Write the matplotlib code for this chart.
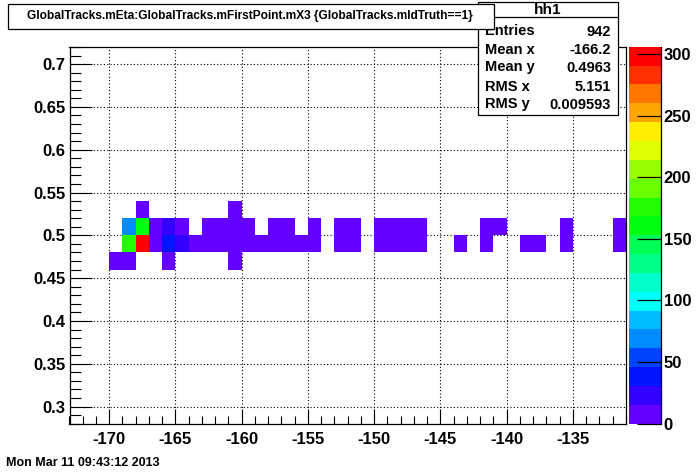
import numpy as np
import matplotlib
matplotlib.use("Agg")
import matplotlib.pyplot as plt
from matplotlib.colors import ListedColormap, BoundaryNorm
from matplotlib.patches import Rectangle
from matplotlib.ticker import MultipleLocator
import colorsys

# ---------------- data (bin low edge in x, counts), one list pair per eta row
row053_x = [-168, -161]
row053_n = [8, 2]
row051_x = [-169, -168, -167, -166, -165, -163, -162, -161, -160, -158, -157,
            -155, -153, -152, -150, -149, -148, -147, -142, -141, -136, -132]
row051_n = [70, 159, 12, 22, 10, 4, 3, 3, 2, 2, 2,
            1, 1, 1, 1, 1, 1, 1, 1, 1, 1, 1]
row049_x = [-169, -168, -167, -166, -165, -164, -163, -162, -161, -160, -159,
            -158, -157, -156, -155, -153, -152, -150, -149, -148, -147, -144,
            -142, -139, -138, -136, -132]
row049_n = [176, 306, 14, 38, 22, 12, 8, 6, 5, 4, 3,
            3, 2, 2, 2, 1, 2, 1, 1, 2, 1, 1,
            1, 1, 1, 1, 1]
row047_x = [-170, -169, -166, -161]
row047_n = [5, 6, 3, 1]
eta_rows = [0.53, 0.51, 0.49, 0.47]

x_range = (-173, -131)
y_range = (0.28, 0.72)
n_xbins = 42
n_ybins = 22
n_levels = 20

title_text = "GlobalTracks.mEta:GlobalTracks.mFirstPoint.mX3 {GlobalTracks.mIdTruth==1}"
stats_name = "hh1"
stats_labels = ["Entries", "Mean x", "Mean y", "RMS x", "RMS y"]
stats_values = ["942", "-166.2", "0.4963", "5.151", "0.009593"]
date_text = "Mon Mar 11 09:43:12 2013"

# ---------------- build histogram
rows_x = [row053_x, row051_x, row049_x, row047_x]
rows_n = [row053_n, row051_n, row049_n, row047_n]
xs, ys, ws = [], [], []
for eta, rx, rn in zip(eta_rows, rows_x, rows_n):
    for bx, c in zip(rx, rn):
        xs.append(bx + 0.5)
        ys.append(eta)
        ws.append(c)
xedges = np.linspace(x_range[0], x_range[1], n_xbins + 1)
yedges = np.linspace(y_range[0], y_range[1], n_ybins + 1)
H, _, _ = np.histogram2d(xs, ys, bins=[xedges, yedges], weights=ws)
Hm = np.ma.masked_where(H <= 0, H).T
zmax = H.max()

# ROOT "pretty" palette with 20 contour levels
pal = []
for i in range(50):
    hue = 280 - (i + 1) * (280.0 / 50)
    pal.append(colorsys.hls_to_rgb((hue % 360) / 360.0, 0.5, 1.0))
cols = [pal[int((k + 0.99) * 50 / n_levels)] for k in range(n_levels)]
cmap = ListedColormap(cols)
levels = np.linspace(0, zmax, n_levels + 1)
norm = BoundaryNorm(levels, cmap.N)

# ---------------- figure
W, Hpx = 696, 472
fig = plt.figure(figsize=(W / 100, Hpx / 100), dpi=100)
fig.patch.set_facecolor("white")

def fb(x0, y0, x1, y1):
    return [x0 / W, 1 - y1 / Hpx, (x1 - x0) / W, (y1 - y0) / Hpx]

FONT = "Liberation Sans"

ax = fig.add_axes(fb(69.5, 47, 626, 423.7))
ax.set_axisbelow(True)
ax.pcolormesh(xedges, yedges, Hm, cmap=cmap, norm=norm, zorder=1)
ax.set_xlim(*x_range)
ax.set_ylim(*y_range)
ax.xaxis.set_major_locator(MultipleLocator(5))
ax.xaxis.set_minor_locator(MultipleLocator(1))
ax.yaxis.set_major_locator(MultipleLocator(0.05))
ax.yaxis.set_minor_locator(MultipleLocator(0.01))
ax.grid(True, which="major", color="black", linestyle=(0, (1, 2)), linewidth=0.8, zorder=0.5)
ax.tick_params(axis="x", which="major", direction="in", length=11, width=0.8,
               top=False, pad=6)
ax.tick_params(axis="x", which="minor", direction="in", length=5.5, width=0.8, top=False)
ax.tick_params(axis="y", which="major", direction="in", length=16, width=0.8,
               right=False, pad=3)
ax.tick_params(axis="y", which="minor", direction="in", length=8, width=0.8, right=False)
for sp in ax.spines.values():
    sp.set_linewidth(0.9)
ax.set_xticks([-170, -165, -160, -155, -150, -145, -140, -135])
ax.set_xticklabels(["-170", "-165", "-160", "-155", "-150", "-145", "-140", "-135"])
ax.set_yticks([0.3, 0.35, 0.4, 0.45, 0.5, 0.55, 0.6, 0.65, 0.7])
ax.set_yticklabels(["0.3", "0.35", "0.4", "0.45", "0.5", "0.55", "0.6", "0.65", "0.7"])
for lab in ax.get_xticklabels() + ax.get_yticklabels():
    lab.set_fontfamily(FONT)
    lab.set_fontweight("bold")
    lab.set_fontsize(12)

# colour palette axis
cax = fig.add_axes(fb(629, 46.7, 661, 423.7))
cax.pcolormesh([0, 1], levels, ((levels[:-1] + levels[1:]) / 2)[:, None],
               cmap=cmap, norm=norm)
cax.set_xlim(0, 1)
cax.set_ylim(0, zmax)
cax.set_xticks([])
cax.yaxis.tick_right()
cax.set_yticks([0, 50, 100, 150, 200, 250, 300])
cax.set_yticklabels(["0", "50", "100", "150", "200", "250", "300"])
cax.tick_params(axis="y", direction="in", length=17, width=0.9, pad=2, left=False, right=True)
for s in ("left", "top", "bottom"):
    cax.spines[s].set_visible(False)
cax.spines["right"].set_linewidth(0.9)
for lab in cax.get_yticklabels():
    lab.set_fontfamily(FONT)
    lab.set_fontweight("bold")
    lab.set_fontsize(12)

def px(x, y):
    return (x / W, 1 - y / Hpx)

# stats box
sx0, sy0, sx1, sy1 = 478.3, 2.3, 618.3, 115
r = Rectangle(px(sx0, sy1), (sx1 - sx0) / W, (sy1 - sy0) / Hpx, transform=fig.transFigure,
              facecolor="white", edgecolor="black", linewidth=0.9, zorder=5)
fig.add_artist(r)
fig.add_artist(plt.Line2D([sx0 / W, sx1 / W], [1 - 16.7 / Hpx] * 2, transform=fig.transFigure,
                          color="black", linewidth=0.9, zorder=6))
fig.text(*px(548, 9.5), stats_name, ha="center", va="center", fontsize=11,
         fontweight="bold", fontfamily=FONT, zorder=7)
label_y = [31, 50.5, 66.5, 87.3, 104]
value_y = [31.5, 50, 68.3, 87.3, 105]
for lab, val, ly, vy in zip(stats_labels, stats_values, label_y, value_y):
    fig.text(*px(485, ly), lab, ha="left", va="center", fontsize=10.5,
             fontweight="bold", fontfamily=FONT, zorder=7)
    fig.text(*px(611, vy), val, ha="right", va="center", fontsize=10.5,
             fontweight="bold", fontfamily=FONT, zorder=7)

# title box (drawn on top of stats box)
tx0, ty0, tx1, ty1 = 8, 4, 494, 29
r2 = Rectangle(px(tx0, ty1), (tx1 - tx0) / W, (ty1 - ty0) / Hpx, transform=fig.transFigure,
               facecolor="white", edgecolor="black", linewidth=0.9, zorder=8)
fig.add_artist(r2)
fig.text(*px(250, 16.5), title_text, ha="center", va="center", fontsize=8.6,
         fontweight="bold", fontfamily=FONT, zorder=9)

# date
fig.text(*px(6, 463.5), date_text, ha="left", va="center", fontsize=9,
         fontweight="bold", fontfamily=FONT)

fig.savefig("out.png", dpi=100)
